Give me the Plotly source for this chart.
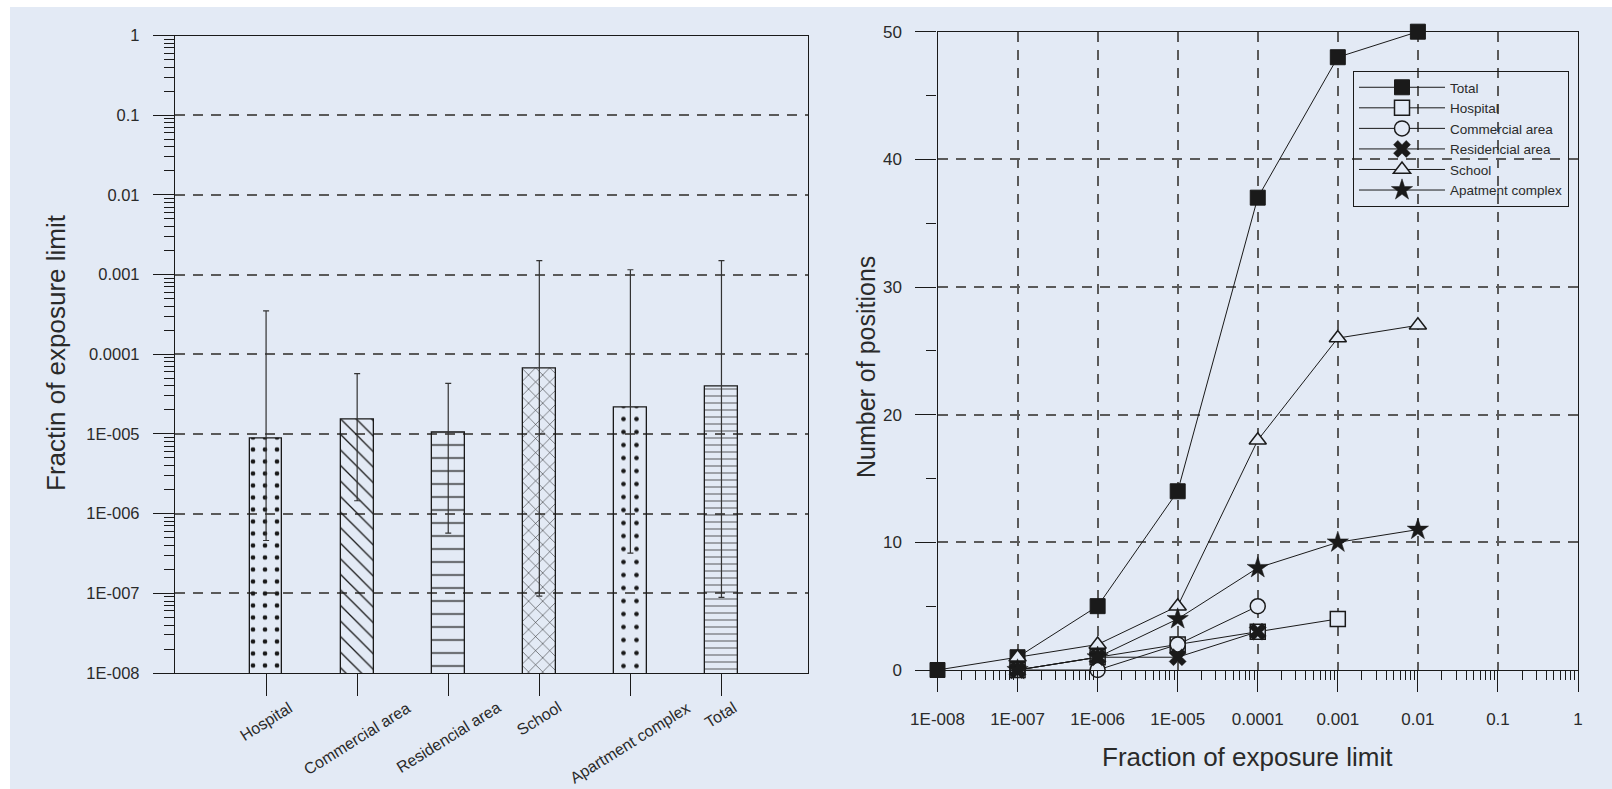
import plotly.graph_objects as go

# ---------------- data ----------------
categories = ["Hospital", "Commercial area", "Residencial area", "School",
              "Apartment complex", "Total"]
bar_values = [8.7e-6, 1.5e-5, 1.03e-5, 6.6e-5, 2.15e-5, 3.9e-5]
err_upper = [3.5e-4, 5.7e-5, 4.3e-5, 1.5e-3, 1.15e-3, 1.5e-3]
err_lower = [4.6e-7, 1.45e-6, 5.7e-7, 9.2e-8, 3.2e-7, 8.9e-8]
bar_patterns = [".", "\\", "-", "x", ".", "-"]

left_tickvals = [1e-8, 1e-7, 1e-6, 1e-5, 1e-4, 1e-3, 1e-2, 1e-1, 1]
left_ticktext = ["1E-008", "1E-007", "1E-006", "1E-005", "0.0001", "0.001", "0.01", "0.1", "1"]

fractions = [1e-8, 1e-7, 1e-6, 1e-5, 1e-4, 1e-3, 1e-2]
total = [0, 1, 5, 14, 37, 48, 50]
hospital = [None, 0, 1, 2, 3, 4, None]
commercial = [None, 0, 0, 2, 5, None, None]
residential = [None, 0, 1, 1, 3, None, None]
school = [None, 1, 2, 5, 18, 26, 27]
apartment = [None, 0, 1, 4, 8, 10, 11]

right_x_tickvals = [1e-8, 1e-7, 1e-6, 1e-5, 1e-4, 1e-3, 1e-2, 1e-1, 1]
right_x_ticktext = ["1E-008", "1E-007", "1E-006", "1E-005", "0.0001", "0.001", "0.01", "0.1", "1"]

# ---------------- style ----------------
W, H = 1612, 789
FONT = "Liberation Sans, Arial, sans-serif"
INK = "#1a1a1a"
TXT = "#2a2a2a"
BG = "#e3eaf5"
GRID = "#5a5a5a"

fig = go.Figure()

err_plus = [u - v for u, v in zip(err_upper, bar_values)]
err_minus = [v - l for v, l in zip(bar_values, err_lower)]
cat_idx = list(range(len(categories)))

fig.add_trace(go.Bar(
    x=cat_idx, y=bar_values, width=0.36,
    marker=dict(color="rgba(0,0,0,0)", line=dict(color=INK, width=1.3),
                pattern=dict(shape=bar_patterns, fgcolor=INK, bgcolor="rgba(0,0,0,0)",
                             size=[12, 11, 13, 10, 13, 7],
                             solidity=[0.12, 0.12, 0.1, 0.1, 0.1, 0.1],
                             fillmode="replace")),
    error_y=dict(type="data", symmetric=False, array=err_plus, arrayminus=err_minus,
                 color="#333333", thickness=1.2, width=3),
    showlegend=False, xaxis="x", yaxis="y"))

series = [
    ("Total", total, dict(symbol="square", size=15, color=INK, line=dict(color=INK, width=1))),
    ("Hospital", hospital, dict(symbol="square", size=15, color=BG, line=dict(color=INK, width=1.5))),
    ("Commercial area", commercial, dict(symbol="circle", size=15, color=BG, line=dict(color=INK, width=1.5))),
    ("Residencial area", residential, dict(symbol="x", size=15, color=INK, line=dict(color=INK, width=0.5))),
    ("School", school, dict(symbol="triangle-up", size=15, color=BG, line=dict(color=INK, width=1.5))),
    ("Apatment complex", apartment, dict(symbol="star", size=16, color=INK, line=dict(color=INK, width=0.5))),
]
for name, vals, mk in series:
    fig.add_trace(go.Scatter(
        x=fractions, y=vals, name=name, mode="lines+markers",
        line=dict(color=INK, width=1), marker=mk, cliponaxis=False,
        xaxis="x2", yaxis="y2"))

def px_x(p):
    return p / W

def px_y(p):
    return 1 - p / H

tickfont = dict(family=FONT, size=17, color=TXT)

annotations = [
    dict(text="Fractin of exposure limit", xref="paper", yref="paper",
         x=px_x(56), y=px_y(353), textangle=-90, showarrow=False,
         xanchor="center", yanchor="middle", font=dict(family=FONT, size=26, color=TXT)),
    dict(text="Number of positions", xref="paper", yref="paper",
         x=px_x(866), y=px_y(367), textangle=-90, showarrow=False,
         xanchor="center", yanchor="middle", font=dict(family=FONT, size=25, color=TXT)),
    dict(text="Fraction of exposure limit", xref="paper", yref="paper",
         x=px_x(1247), y=px_y(757), showarrow=False,
         xanchor="center", yanchor="middle", font=dict(family=FONT, size=26, color=TXT)),
]
# category labels, rotated and centred under their ticks
for i, c in zip(cat_idx, categories):
    annotations.append(dict(text=c, xref="x", yref="paper", x=i, y=px_y(696),
                            textangle=-32, showarrow=False, xanchor="center", yanchor="top",
                            font=dict(family=FONT, size=16, color=TXT)))

fig.update_layout(
    width=W, height=H,
    margin=dict(l=0, r=0, t=0, b=0),
    paper_bgcolor="white", plot_bgcolor="rgba(0,0,0,0)",
    font=dict(family=FONT, color=TXT),
    bargap=0,
    xaxis=dict(domain=[px_x(175), px_x(808)], range=[-1, 5.95],
               tickmode="array", tickvals=cat_idx, showticklabels=False,
               ticks="outside", ticklen=22, tickcolor=INK, tickwidth=1,
               showline=True, linecolor=INK, linewidth=1.3, mirror=True,
               showgrid=False, zeroline=False, anchor="y", automargin=False),
    yaxis=dict(domain=[px_y(673), px_y(35.5)], type="log", range=[-8, 0],
               tickmode="array", tickvals=left_tickvals, ticktext=left_ticktext,
               tickfont=dict(family=FONT, size=16.5, color=TXT),
               ticks="outside", ticklen=21, tickcolor=INK, tickwidth=1,
               ticklabelstandoff=10,
               minor=dict(dtick="D1", ticks="outside", ticklen=10, tickcolor=INK, showgrid=False),
               showline=True, linecolor=INK, linewidth=1.3, mirror=True,
               showgrid=True, gridcolor=GRID, gridwidth=1.5, griddash="10px,8px",
               zeroline=False, anchor="x", automargin=False),
    xaxis2=dict(domain=[px_x(937.5), px_x(1578)], type="log", range=[-8, 0],
                tickmode="array", tickvals=right_x_tickvals, ticktext=right_x_ticktext,
                tickfont=tickfont, ticks="outside", ticklen=21, tickcolor=INK, tickwidth=1,
                ticklabelstandoff=12,
                minor=dict(dtick="D1", ticks="outside", ticklen=9, tickcolor=INK, showgrid=False),
                showline=True, linecolor=INK, linewidth=1.3, mirror=True,
                showgrid=True, gridcolor=GRID, gridwidth=1.5, griddash="10px,8px",
                zeroline=False, anchor="y2", automargin=False),
    yaxis2=dict(domain=[px_y(670), px_y(31.7)], range=[0, 50], dtick=10,
                tickfont=tickfont, ticks="outside", ticklen=21, tickcolor=INK, tickwidth=1,
                ticklabelstandoff=10,
                minor=dict(dtick=5, ticks="outside", ticklen=10, tickcolor=INK, showgrid=False),
                showline=True, linecolor=INK, linewidth=1.3, mirror=True,
                showgrid=True, gridcolor=GRID, gridwidth=1.5, griddash="10px,8px",
                zeroline=False, anchor="x2", automargin=False),
    legend=dict(x=px_x(1353), y=px_y(71), xanchor="left", yanchor="top",
                bgcolor="rgba(0,0,0,0)", bordercolor=INK, borderwidth=1,
                font=dict(family=FONT, size=13.5, color=TXT),
                itemwidth=86, tracegroupgap=0),
    shapes=[dict(type="rect", xref="paper", yref="paper",
                 x0=px_x(10), x1=1, y0=0, y1=px_y(7),
                 fillcolor=BG, line=dict(width=0), layer="below")],
    annotations=annotations,
)

fig.write_html("out.html")
